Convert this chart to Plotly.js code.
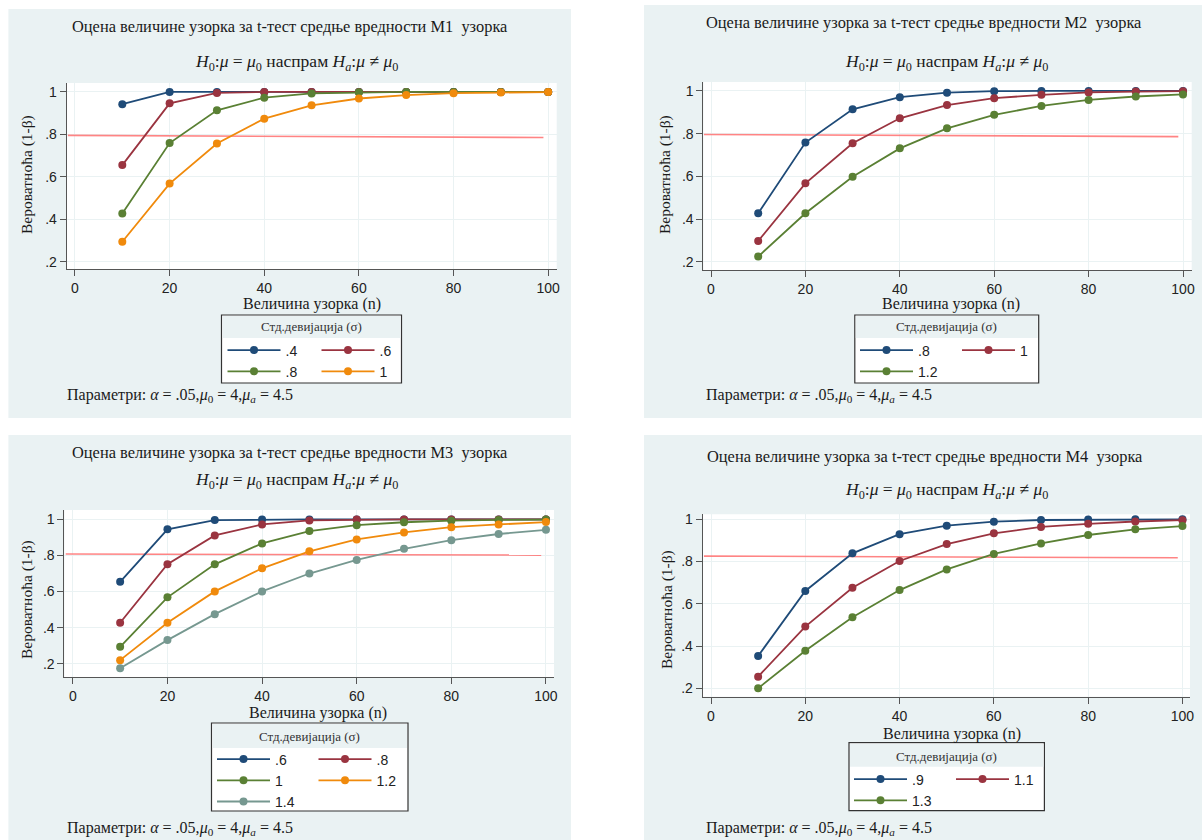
<!DOCTYPE html>
<html><head><meta charset="utf-8">
<script src="https://cdn.plot.ly/plotly-3.0.1.min.js"></script>
<style>html,body{margin:0;padding:0;background:#fff}#chart{width:1202px;height:840px}</style>
</head><body><div id="chart"></div>
<script>
// ---------------- DATA ----------------
const sampleSize = [10, 20, 30, 40, 50, 60, 70, 80, 90, 100];
const xTickVals = [0, 20, 40, 60, 80, 100];
const yTickVals = [0.2, 0.4, 0.6, 0.8, 1];
const yTickText = ['.2', '.4', '.6', '.8', '1'];
const panelNames = ['M1', 'M2', 'M3', 'M4'];

// M1 panel
const m1Labels = ['.4', '.6', '.8', '1'];
const m1Sd04 = [0.942, 1.0, 1.0, 1.0, 1.0, 1.0, 1.0, 1.0, 1.0, 1.0];
const m1Sd06 = [0.655, 0.946, 0.995, 1.0, 1.0, 1.0, 1.0, 1.0, 1.0, 1.0];
const m1Sd08 = [0.427, 0.759, 0.913, 0.973, 0.993, 0.998, 1.0, 1.0, 1.0, 1.0];
const m1Sd10 = [0.294, 0.568, 0.757, 0.874, 0.937, 0.969, 0.985, 0.994, 0.997, 0.999];
const m1Ref = [0.795, 0.785];

// M2 panel
const m2Labels = ['.8', '1', '1.2'];
const m2Sd08 = [0.427, 0.758, 0.914, 0.971, 0.992, 0.999, 1.0, 1.0, 1.0, 1.0];
const m2Sd10 = [0.297, 0.567, 0.755, 0.872, 0.934, 0.966, 0.982, 0.993, 0.997, 0.999];
const m2Sd12 = [0.224, 0.427, 0.598, 0.731, 0.825, 0.888, 0.930, 0.958, 0.974, 0.984];
const m2Ref = [0.796, 0.786];

// M3 panel
const m3Labels = ['.6', '.8', '1', '1.2', '1.4'];
const m3Sd06 = [0.654, 0.945, 0.996, 1.0, 1.0, 1.0, 1.0, 1.0, 1.0, 1.0];
const m3Sd08 = [0.427, 0.752, 0.911, 0.972, 0.994, 0.999, 1.0, 1.0, 1.0, 1.0];
const m3Sd10 = [0.294, 0.568, 0.751, 0.867, 0.935, 0.968, 0.984, 0.993, 0.997, 0.999];
const m3Sd12 = [0.220, 0.427, 0.601, 0.729, 0.823, 0.889, 0.928, 0.957, 0.972, 0.985];
const m3Sd14 = [0.175, 0.331, 0.475, 0.601, 0.700, 0.775, 0.837, 0.885, 0.919, 0.942];
const m3Ref = [0.808, 0.802];

// M4 panel
const m4Labels = ['.9', '1.1', '1.3'];
const m4Sd09 = [0.353, 0.661, 0.839, 0.930, 0.970, 0.989, 0.997, 0.999, 1.0, 1.0];
const m4Sd11 = [0.255, 0.492, 0.676, 0.803, 0.883, 0.934, 0.964, 0.979, 0.990, 0.996];
const m4Sd13 = [0.200, 0.378, 0.536, 0.665, 0.763, 0.836, 0.886, 0.926, 0.953, 0.968];
const m4Ref = [0.826, 0.818];

const refLineX = [-1.5, 99];

// ---------------- STYLE / GEOMETRY ----------------
const W = 1202, H = 840;
const SERIF = '"Liberation Serif", "Times New Roman", serif';
const SANS = '"Liberation Sans", Arial, sans-serif';
const BG = '#eaf2f3';
const C = {navy: '#1f4b78', maroon: '#9a3440', green: '#5a8034', orange: '#f08a0c', teal: '#769890'};
const px = x => x / W;
const py = y => 1 - y / H;

const panels = [
  {series: [m1Sd04, m1Sd06, m1Sd08, m1Sd10], labels: m1Labels, colors: [C.navy, C.maroon, C.green, C.orange], ref: m1Ref,
   xd: [66.7, 556.7], xr: [-1.75, 101.8], yd: [83, 269.3], yr: [0.164, 1.042],
   bg: [8.4, 9, 571, 418], title: [290, 27], sub: [296, 63], ytitle: [27, 175], xtitle: [312, 304],
   box: [221.5, 315, 401.5, 383, 338], legX: [222.5, 316.5], legY: 334.5, legTitleY: 327, params: [65, 395]},
  {series: [m2Sd08, m2Sd10, m2Sd12], labels: m2Labels, colors: [C.navy, C.maroon, C.green], ref: m2Ref,
   xd: [703.4, 1191.7], xr: [-1.61, 101.84], yd: [82, 270], yr: [0.161, 1.042],
   bg: [644, 5, 1202, 418], title: [924, 22], sub: [946, 63], ytitle: [665, 175], xtitle: [951, 304],
   box: [854.8, 315, 1038.7, 383, 338], legX: [855, 957], legY: 334.5, legTitleY: 327, params: [704, 395]},
  {series: [m3Sd06, m3Sd08, m3Sd10, m3Sd12, m3Sd14], labels: m3Labels, colors: [C.navy, C.maroon, C.green, C.orange, C.teal], ref: m3Ref,
   xd: [64.4, 554], xr: [-1.78, 101.7], yd: [510, 677.3], yr: [0.125, 1.052],
   bg: [8.4, 435, 571, 840], title: [290, 452], sub: [296, 481], ytitle: [27, 600], xtitle: [318, 713],
   box: [211.5, 723, 408, 811, 748], legX: [212, 313.5], legY: 743.5, legTitleY: 736, params: [65, 828]},
  {series: [m4Sd09, m4Sd11, m4Sd13], labels: m4Labels, colors: [C.navy, C.maroon, C.green], ref: m4Ref,
   xd: [702.7, 1190], xr: [-1.76, 101.6], yd: [514.3, 696.7], yr: [0.160, 1.024],
   bg: [644, 435, 1202, 840], title: [925, 457], sub: [946, 490], ytitle: [667, 609], xtitle: [952, 734],
   box: [849, 742.7, 1044.4, 810.7, 766.7], legX: [849, 951], legY: 763.5, legTitleY: 756, params: [704, 828]}
];

const subtitleHtml = '<i>H</i><sub>0</sub>:<i>μ</i> = <i>μ</i><sub>0</sub> наспрам <i>H</i><sub><i>a</i></sub>:<i>μ</i> ≠ <i>μ</i><sub>0</sub>';
const paramsHtml = 'Параметри: <i>α</i> = .05,<i>μ</i><sub>0</sub> = 4,<i>μ</i><sub><i>a</i></sub> = 4.5';
const legendTitle = 'Стд.девијација (σ)';

const traces = [];
const shapes = [];
const annotations = [];
const layout = {
  width: W, height: H, margin: {l: 0, r: 0, t: 0, b: 0},
  paper_bgcolor: '#ffffff', plot_bgcolor: 'rgba(0,0,0,0)',
  showlegend: true, hovermode: false,
  font: {family: SANS, color: '#222'}
};

function ann(text, x, y, size, opts) {
  annotations.push(Object.assign({
    text: text, xref: 'paper', yref: 'paper', x: px(x), y: py(y),
    xanchor: 'center', yanchor: 'middle', showarrow: false,
    font: {family: SERIF, size: size, color: '#1a1a1a'}
  }, opts || {}));
}

panels.forEach((p, i) => {
  const k = i + 1;
  const xa = 'xaxis' + (k === 1 ? '' : k), ya = 'yaxis' + (k === 1 ? '' : k);
  const xid = 'x' + (k === 1 ? '' : k), yid = 'y' + (k === 1 ? '' : k);

  layout[xa] = {
    domain: [px(p.xd[0]), px(p.xd[1])], range: p.xr, anchor: yid,
    tickmode: 'array', tickvals: xTickVals, ticks: 'outside', ticklen: 6, tickwidth: 1, tickcolor: '#555',
    showline: true, linecolor: '#555', linewidth: 1, zeroline: false,
    showgrid: true, gridcolor: BG, gridwidth: 1,
    tickfont: {family: SANS, size: 14, color: '#222'}, fixedrange: true
  };
  layout[ya] = {
    domain: [py(p.yd[1]), py(p.yd[0])], range: p.yr, anchor: xid,
    tickmode: 'array', tickvals: yTickVals, ticktext: yTickText, ticks: 'outside', ticklen: 6, tickwidth: 1, tickcolor: '#555',
    showline: true, linecolor: '#555', linewidth: 1, zeroline: false,
    showgrid: true, gridcolor: BG, gridwidth: 1,
    tickfont: {family: SANS, size: 14, color: '#222'}, fixedrange: true
  };

  // panel background + white plot region
  shapes.push({type: 'rect', xref: 'paper', yref: 'paper', layer: 'below',
    x0: px(p.bg[0]), x1: px(p.bg[2]), y0: py(p.bg[3]), y1: py(p.bg[1]),
    fillcolor: BG, line: {width: 0}});
  shapes.push({type: 'rect', xref: 'paper', yref: 'paper', layer: 'below',
    x0: px(p.xd[0]), x1: px(p.xd[1]), y0: py(p.yd[1]), y1: py(p.yd[0]),
    fillcolor: '#ffffff', line: {width: 0}});

  // legend box and title band
  shapes.push({type: 'rect', xref: 'paper', yref: 'paper', layer: 'above',
    x0: px(p.box[0]), x1: px(p.box[2]), y0: py(p.box[3]), y1: py(p.box[1]),
    fillcolor: '#ffffff', line: {color: '#333', width: 1.2}});
  shapes.push({type: 'rect', xref: 'paper', yref: 'paper', layer: 'above',
    x0: px(p.box[0] + 1), x1: px(p.box[2] - 1), y0: py(p.box[4]), y1: py(p.box[1] + 1),
    fillcolor: BG, line: {width: 0}});

  // reference line
  traces.push({type: 'scatter', mode: 'lines', x: refLineX, y: p.ref, xaxis: xid, yaxis: yid,
    line: {color: 'rgba(255,110,110,0.85)', width: 1.6}, showlegend: false, hoverinfo: 'skip'});

  // two legend columns per panel
  const legIds = [0, 1].map(c => {
    const n = i * 2 + c + 1;
    const id = n === 1 ? 'legend' : 'legend' + n;
    layout[id] = {
      x: px(p.legX[c]), y: py(p.legY), xanchor: 'left', yanchor: 'top',
      orientation: 'v', traceorder: 'normal', tracegroupgap: 0,
      bgcolor: 'rgba(0,0,0,0)', borderwidth: 0, itemwidth: 53,
      font: {family: SANS, size: 14, color: '#222'}, itemclick: false, itemdoubleclick: false
    };
    return id;
  });

  p.series.forEach((s, j) => {
    traces.push({type: 'scatter', mode: 'lines+markers', x: sampleSize, y: s, xaxis: xid, yaxis: yid,
      name: p.labels[j], legend: legIds[j % 2],
      line: {color: p.colors[j], width: 1.8},
      marker: {color: p.colors[j], size: 8, symbol: 'circle'}});
  });

  ann('Оцена величине узорка за t-тест средње вредности ' + panelNames[i] + '\u00a0 узорка', p.title[0], p.title[1], 16.4);
  ann(subtitleHtml, p.sub[0], p.sub[1], 17.5);
  ann('Вероватноћа (1-β)', p.ytitle[0], p.ytitle[1], 15.5, {textangle: -90});
  ann('Величина узорка (n)', p.xtitle[0], p.xtitle[1], 16);
  ann(legendTitle, (p.box[0] + p.box[2]) / 2, p.legTitleY, 13, {font: {family: SERIF, size: 13, color: '#333'}});
  ann(paramsHtml, p.params[0], p.params[1], 16, {xanchor: 'left'});
});

layout.shapes = shapes;
layout.annotations = annotations;

Plotly.newPlot('chart', traces, layout, {displayModeBar: false, staticPlot: true});
</script>
</body></html>
